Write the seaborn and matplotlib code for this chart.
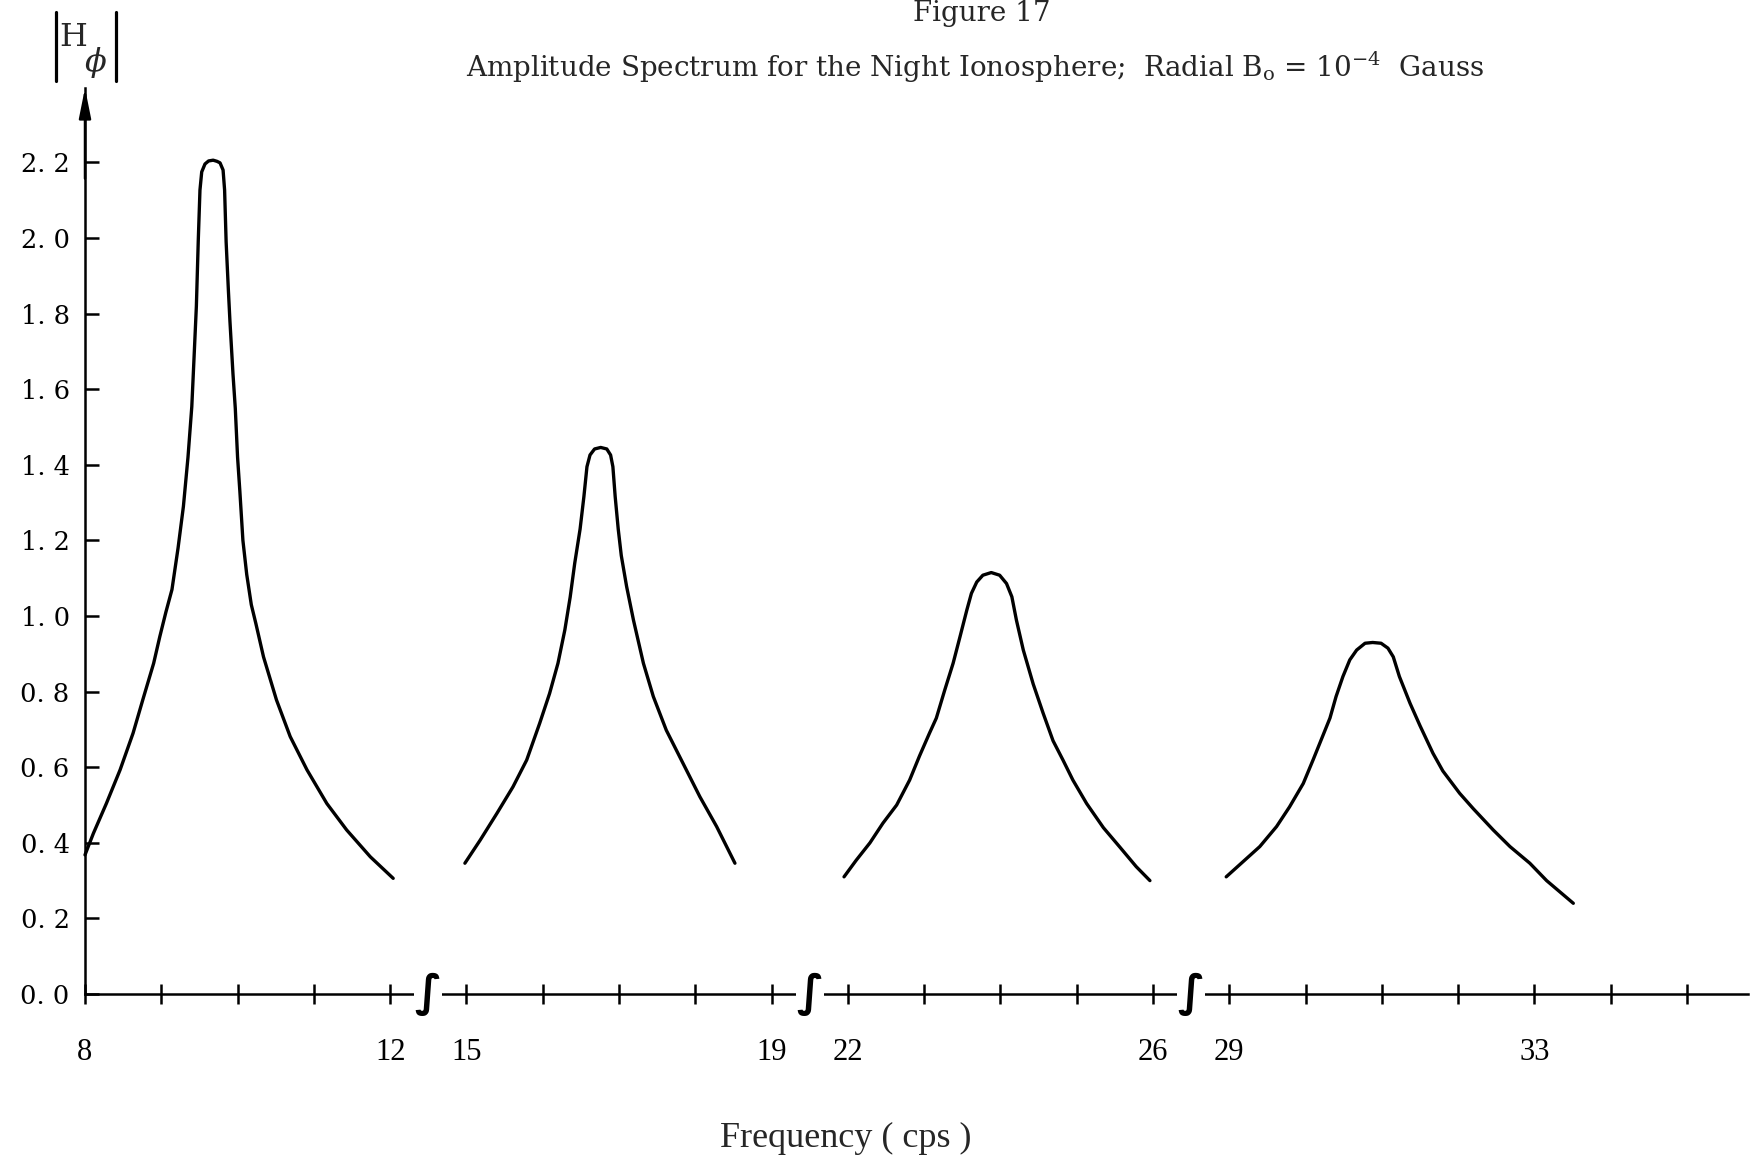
"""Figure 17 - amplitude spectrum, night ionosphere, radial B0"""
import seaborn as sns
import matplotlib.pyplot as plt
from matplotlib.lines import Line2D
import pandas as pd
import numpy as np

sns.set_theme(style='ticks')
plt.rcParams['font.family'] = ['DejaVu Serif']
plt.rcParams['mathtext.fontset'] = 'dejavuserif'

# broken frequency axis: each band is shifted so it follows the previous one
seg_start = [8, 15, 22, 29]
seg_pos = [0, 5, 10, 15]
seg_ticks = [[9, 10, 11, 12], [15, 16, 17, 18, 19],
             [22, 23, 24, 25, 26], [29, 30, 31, 32, 33, 34, 35]]
label_freqs = [8, 12, 15, 19, 22, 26, 29, 33]
y_ticks = [0.0, 0.2, 0.4, 0.6, 0.8, 1.0, 1.2, 1.4, 1.6, 1.8, 2.0, 2.2]

f1 = [8.00, 8.11, 8.28, 8.46, 8.63, 8.76, 8.90, 8.98, 9.06, 9.14, 9.22, 9.29,
      9.35, 9.40, 9.43, 9.46, 9.485, 9.507, 9.53, 9.573, 9.62, 9.68, 9.73,
      9.77, 9.81, 9.83, 9.85, 9.88, 9.90, 9.94, 9.97, 10.00, 10.03, 10.07,
      10.12, 10.18, 10.24, 10.34, 10.51, 10.69, 10.91, 11.17, 11.43, 11.74, 12.04]
a1 = [0.368, 0.425, 0.504, 0.593, 0.69, 0.78, 0.875, 0.945, 1.01, 1.07, 1.18, 1.29,
      1.42, 1.554, 1.686, 1.82, 1.995, 2.127, 2.175, 2.196, 2.204, 2.206, 2.203,
      2.199, 2.18, 2.127, 1.99, 1.86, 1.78, 1.64, 1.55, 1.42, 1.33, 1.20,
      1.11, 1.03, 0.98, 0.892, 0.778, 0.681, 0.593, 0.504, 0.434, 0.363, 0.306]

f2 = [14.98, 15.18, 15.40, 15.61, 15.79, 15.96, 16.09, 16.20, 16.29, 16.36,
      16.42, 16.49, 16.54, 16.58, 16.62, 16.68, 16.76, 16.84, 16.89, 16.92,
      16.95, 16.99, 17.03, 17.10, 17.19, 17.32, 17.45, 17.62, 17.84, 18.06,
      18.28, 18.52]
a2 = [0.346, 0.407, 0.478, 0.548, 0.619, 0.716, 0.795, 0.875, 0.963, 1.05,
      1.14, 1.23, 1.316, 1.395, 1.426, 1.442, 1.446, 1.442, 1.426, 1.395,
      1.316, 1.23, 1.16, 1.078, 0.989, 0.875, 0.787, 0.698, 0.61, 0.522,
      0.443, 0.346]

f3 = [21.95, 22.11, 22.29, 22.46, 22.64, 22.81, 22.94, 23.07, 23.16, 23.27,
      23.38, 23.47, 23.56, 23.62, 23.69, 23.77, 23.88, 23.99, 24.08, 24.15,
      24.21, 24.30, 24.43, 24.56, 24.69, 24.82, 24.95, 25.13, 25.35, 25.56,
      25.78, 25.96]
a3 = [0.31, 0.354, 0.40, 0.452, 0.50, 0.566, 0.63, 0.69, 0.73, 0.804,
      0.875, 0.945, 1.016, 1.06, 1.09, 1.108, 1.115, 1.108, 1.086, 1.051,
      0.989, 0.91, 0.82, 0.743, 0.67, 0.619, 0.566, 0.504, 0.44, 0.39,
      0.337, 0.30]

f4 = [28.96, 29.18, 29.40, 29.62, 29.79, 29.97, 30.10, 30.23, 30.32, 30.40,
      30.49, 30.58, 30.67, 30.78, 30.88, 30.99, 31.08, 31.15, 31.23, 31.37,
      31.50, 31.67, 31.80, 32.02, 32.20, 32.46, 32.68, 32.94, 33.16, 33.51]
a4 = [0.31, 0.35, 0.39, 0.443, 0.495, 0.557, 0.62, 0.685, 0.73, 0.787,
      0.84, 0.884, 0.91, 0.928, 0.93, 0.928, 0.915, 0.892, 0.84, 0.769,
      0.71, 0.637, 0.59, 0.531, 0.49, 0.434, 0.39, 0.346, 0.30, 0.24]


def to_axis(f, k):
    return f - seg_start[k] + seg_pos[k]


def seg_of(f):
    return max(k for k, s in enumerate(seg_start) if f >= s - 0.5)


rows = []
for k, (fs, amps) in enumerate([(f1, a1), (f2, a2), (f3, a3), (f4, a4)]):
    for f, a in zip(fs, amps):
        rows.append({'peak': k, 'freq': f, 'u': to_axis(f, k), 'amp': a})
df = pd.DataFrame(rows)

fig = plt.figure(figsize=(17.5, 11.57), dpi=100, facecolor='white')
ax = fig.add_axes([85 / 1750, 163 / 1157, 1663 / 1750, 906 / 1157])
ax.set_facecolor('white')

sns.lineplot(data=df, x='u', y='amp', units='peak', estimator=None, sort=False,
             color='black', lw=2.4, ax=ax, clip_on=False)

ax.set_xlim(0, 21.8)
ax.set_ylim(0, 2.397)

tick_u = [to_axis(f, k) for k, ts in enumerate(seg_ticks) for f in ts]
lab_u = {to_axis(f, seg_of(f)): str(f) for f in label_freqs}
all_u = sorted(set(tick_u) | set(lab_u))
ax.set_xticks(all_u)
ax.set_xticklabels([lab_u.get(u, '') for u in all_u],
                   fontfamily='Liberation Serif', fontsize=22)
ax.set_yticks(y_ticks)
ax.set_yticklabels([f'{v:.1f}'.replace('.', '. ') for v in y_ticks], fontsize=18.5)
ax.tick_params(axis='x', direction='inout', length=15, width=1.8, pad=24,
               colors='black')
ax.tick_params(axis='y', direction='in', length=10, width=1.8, pad=11,
               colors='black')
ax.set_xlabel('')
ax.set_ylabel('')

sns.despine(ax=ax)
for side in ['left', 'bottom']:
    ax.spines[side].set_linewidth(1.8)
    ax.spines[side].set_color('black')

# arrow on top of the amplitude axis
ax.annotate('', xy=(0, 1.0), xytext=(0, 0.9), xycoords='axes fraction',
            arrowprops=dict(arrowstyle='-|>,head_length=1.5,head_width=0.3',
                            lw=1.8, color='black', shrinkA=0, shrinkB=0))

# break marks between frequency bands
for k in range(1, len(seg_start)):
    prev_end = max(u for u in tick_u if u < seg_pos[k])
    ax.text((prev_end + seg_pos[k]) / 2, 0, '\u222B', ha='center', va='center',
            fontsize=32, fontweight='bold', family='DejaVu Sans', color='black',
            zorder=6, clip_on=False,
            bbox=dict(facecolor='white', edgecolor='none', pad=0.3))

fig.text(0.561, 0.988, 'Figure 17', ha='center', va='center', fontsize=20)
fig.text(0.557, 0.942,
         r'Amplitude Spectrum for the Night Ionosphere;  Radial B$_\mathrm{o}$ = 10$^{-4}$  Gauss',
         ha='center', va='center', fontsize=20)

# |H_phi| label above the amplitude axis, with tall bars
for xb in (56 / 1750, 116 / 1750):
    fig.add_artist(Line2D([xb, xb], [1 - 12 / 1157, 1 - 81 / 1157],
                          transform=fig.transFigure, color='black', lw=2.3))
fig.text(73.5 / 1750, 1 - 38 / 1157, 'H', ha='center', va='center', fontsize=23)
fig.text(96 / 1750, 1 - 62 / 1157, r'$\phi$', ha='center', va='center',
         fontsize=23)

fig.text(0.483, 0.016, 'Frequency ( cps )', ha='center', va='center',
         fontsize=26, family='Liberation Serif')

fig.savefig('out.png', dpi=100, facecolor='white')
